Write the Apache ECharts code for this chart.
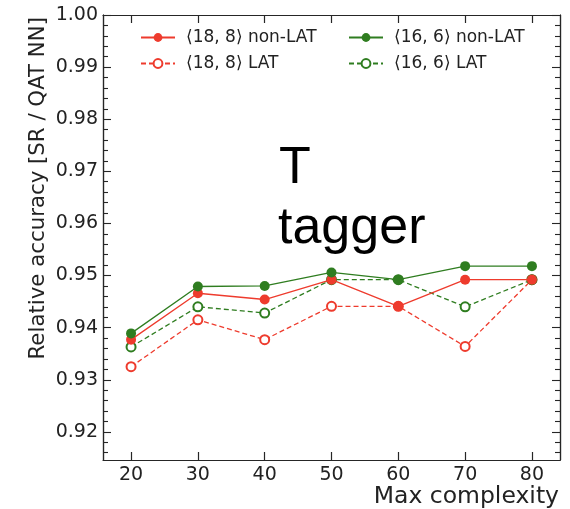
<!DOCTYPE html>
<html>
<head>
<meta charset="utf-8">
<script src="https://cdn.jsdelivr.net/npm/echarts@6/dist/echarts.min.js"></script>
<style>
  html, body { margin: 0; padding: 0; background: #fff; }
  #chart { width: 570px; height: 509px; }
</style>
</head>
<body>
<div id="chart"></div>
<script>
// Max complexity settings on the x axis
const complexity = [20, 30, 40, 50, 60, 70, 80];

// Relative accuracy (SR / QAT NN) for each configuration
const acc_18_8_nonLAT = [0.9377, 0.9466, 0.9454, 0.9492, 0.9441, 0.9492, 0.9492];
const acc_18_8_LAT    = [0.9325, 0.9415, 0.9377, 0.9441, 0.9441, 0.9364, 0.9492];
const acc_16_6_nonLAT = [0.9389, 0.9479, 0.9480, 0.9506, 0.9492, 0.9518, 0.9518];
const acc_16_6_LAT    = [0.9363, 0.9440, 0.9428, 0.9492, 0.9492, 0.9440, 0.9492];

// Axis ticks
const xTicks = [20, 30, 40, 50, 60, 70, 80];
const yTicks = [0.92, 0.93, 0.94, 0.95, 0.96, 0.97, 0.98, 0.99, 1.00];
const yRange = [0.9146, 1.0];
const xRange = [15.8, 84.2];

const RED = '#ee3b2d';
const GREEN = '#2f7d20';
const AXIS = '#262626';
const FONT = 'DejaVu Sans';

// minor ticks every 0.002 between the labelled ones
const yMinor = [];
for (let i = 0; i <= 50; i++) {
  const v = +(0.912 + i * 0.002).toFixed(3);
  if (v >= yRange[0] && v <= yRange[1] && !yTicks.some(t => Math.abs(t - v) < 1e-9)) yMinor.push(v);
}

const pairs = arr => complexity.map((c, i) => [c, arr[i]]);

function lineSeries(name, arr, color, dashed) {
  return {
    name: name,
    type: 'line',
    data: pairs(arr),
    symbol: dashed ? 'emptyCircle' : 'circle',
    symbolSize: dashed ? 9 : 10,
    showSymbol: true,
    lineStyle: { color: color, width: 1.3, type: dashed ? [5, 3] : 'solid' },
    itemStyle: dashed
      ? { color: color, borderColor: color, borderWidth: 1.4 }
      : { color: color, borderWidth: 0 },
    emphasis: { disabled: true },
    animation: false,
    z: dashed ? 3 : 4
  };
}

function xAx(pos, labels) {
  return {
    type: 'value', position: pos, min: xRange[0], max: xRange[1],
    axisLine: { show: true, lineStyle: { color: AXIS, width: 1.2 } },
    axisTick: { show: true, inside: true, length: 8, customValues: xTicks, lineStyle: { color: AXIS, width: 1.2 } },
    axisLabel: labels ? { show: true, customValues: xTicks, margin: 6, fontFamily: FONT, fontSize: 19, color: '#222' } : { show: false },
    splitLine: { show: false }
  };
}

function yAx(pos, major, labels) {
  const vals = major ? yTicks : yMinor;
  return {
    type: 'value', position: pos, min: yRange[0], max: yRange[1],
    axisLine: { show: true, lineStyle: { color: AXIS, width: 1.2 } },
    axisTick: { show: true, inside: true, length: major ? 8 : 5, customValues: vals, lineStyle: { color: AXIS, width: 1.1 } },
    axisLabel: labels ? { show: true, customValues: yTicks, margin: 5, fontFamily: FONT, fontSize: 19, color: '#222', formatter: v => v.toFixed(2) } : { show: false },
    splitLine: { show: false }
  };
}

const legendText = { fontFamily: FONT, fontSize: 17, color: '#222', padding: [0, 0, 0, 6] };

const chart = echarts.init(document.getElementById('chart'), null, { renderer: 'canvas' });
chart.setOption({
  backgroundColor: '#fff',
  animation: false,
  grid: { left: 103, right: 10, top: 15, bottom: 49, containLabel: false },
  xAxis: [xAx('bottom', true), xAx('top', false)],
  yAxis: [yAx('left', true, true), yAx('left', false, false), yAx('right', true, false), yAx('right', false, false)],
  legend: [
    {
      orient: 'vertical', left: 140, top: 29, padding: 0, itemWidth: 34, itemHeight: 11, itemGap: 9,
      textStyle: legendText, selectedMode: false,
      data: ['⟨18, 8⟩ non-LAT', '⟨18, 8⟩ LAT']
    },
    {
      orient: 'vertical', left: 348, top: 29, padding: 0, itemWidth: 34, itemHeight: 11, itemGap: 9,
      textStyle: legendText, selectedMode: false,
      data: ['⟨16, 6⟩ non-LAT', '⟨16, 6⟩ LAT']
    }
  ],
  graphic: [
    { type: 'text', left: 279, top: 143, style: { text: 'T', fontFamily: 'Liberation Sans', fontSize: 52, fill: '#000' } },
    { type: 'text', left: 278, top: 203, style: { text: 'tagger', fontFamily: 'Liberation Sans', fontSize: 52, fill: '#000' } },
    { type: 'text', x: 559, y: 497, style: { text: 'Max complexity', fontFamily: FONT, fontSize: 23.5, fill: '#222', align: 'right', verticalAlign: 'middle' } },
    { type: 'text', x: 38, y: 17, rotation: Math.PI / 2, style: { text: 'Relative accuracy [SR / QAT NN]', fontFamily: FONT, fontSize: 21.3, fill: '#222', align: 'right', verticalAlign: 'middle' } }
  ],
  series: [
    lineSeries('⟨18, 8⟩ LAT', acc_18_8_LAT, RED, true),
    lineSeries('⟨16, 6⟩ LAT', acc_16_6_LAT, GREEN, true),
    lineSeries('⟨18, 8⟩ non-LAT', acc_18_8_nonLAT, RED, false),
    lineSeries('⟨16, 6⟩ non-LAT', acc_16_6_nonLAT, GREEN, false)
  ]
});
</script>
</body>
</html>
